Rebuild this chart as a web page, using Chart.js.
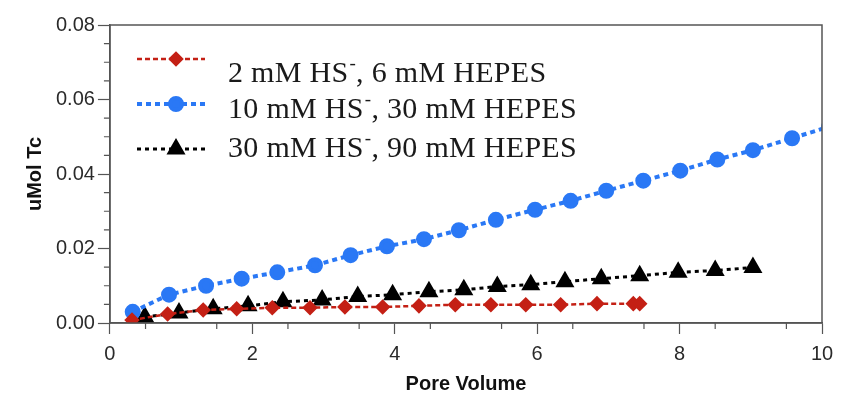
<!DOCTYPE html>
<html>
<head>
<meta charset="utf-8">
<script src="https://cdn.jsdelivr.net/npm/chart.js@4"></script>
<style>
  html, body { margin: 0; padding: 0; background: #fff; }
  #wrap { width: 842px; height: 394px; }
</style>
</head>
<body>
<div id="wrap"><canvas id="chart" width="842" height="394"></canvas></div>
<script>
// pore volume / uMol Tc
const labels = ['2 mM HS⁻, 6 mM HEPES', '10 mM HS⁻, 30 mM HEPES', '30 mM HS⁻, 90 mM HEPES'];

const redX = [0.31, 0.81, 1.31, 1.78, 2.28, 2.81, 3.30, 3.83, 4.34, 4.85, 5.35, 5.84, 6.33, 6.84, 7.35, 7.44];
const redY = [0.0008, 0.0024, 0.0035, 0.0038, 0.0041, 0.0041, 0.0043, 0.0043, 0.0046, 0.0049, 0.0049, 0.0049, 0.0049, 0.0052, 0.0052, 0.0052];

const blueX = [0.32, 0.83, 1.35, 1.85, 2.35, 2.88, 3.38, 3.89, 4.41, 4.90, 5.42, 5.97, 6.47, 6.97, 7.49, 8.01, 8.53, 9.03, 9.58, 10.1];
const blueY = [0.0030, 0.0076, 0.0100, 0.0119, 0.0136, 0.0155, 0.0182, 0.0206, 0.0225, 0.0249, 0.0277, 0.0304, 0.0328, 0.0355, 0.0382, 0.0409, 0.0439, 0.0464, 0.0496, 0.0527];

const blackX = [0.49, 0.97, 1.45, 1.94, 2.43, 2.98, 3.48, 3.97, 4.48, 4.97, 5.44, 5.91, 6.39, 6.90, 7.44, 7.98, 8.50, 9.03];
const blackY = [0.0016, 0.0027, 0.0038, 0.0046, 0.0057, 0.0062, 0.0071, 0.0076, 0.0084, 0.0089, 0.0098, 0.0103, 0.0111, 0.0119, 0.0127, 0.0136, 0.0141, 0.0149];

const xTicks = [0, 2, 4, 6, 8, 10];
const yTicks = [0, 0.02, 0.04, 0.06, 0.08];

const X_MAX = 10;
const AXIS = '#555';
const SANS = "'Liberation Sans', Arial, sans-serif";
const SERIF = "'Liberation Serif', 'Times New Roman', serif";

const toPoints = (xs, ys) => xs.map((x, i) => ({ x, y: ys[i] }));
const hideOutside = (c) => (c.raw && c.raw.x > X_MAX ? 0 : undefined);

// frame round the plot + minor ticks
const framePlugin = {
  id: 'frame',
  afterDraw(chart) {
    const { ctx, chartArea: a, scales } = chart;
    ctx.save();
    ctx.strokeStyle = AXIS;
    ctx.lineWidth = 1.5;
    ctx.strokeRect(a.left, a.top, a.right - a.left, a.bottom - a.top);
    ctx.lineWidth = 1.2;
    ctx.beginPath();
    for (let v = 0.5; v < X_MAX; v += 1) {
      const px = scales.x.getPixelForValue(v);
      ctx.moveTo(px, a.bottom);
      ctx.lineTo(px, a.bottom + 6);
    }
    for (let v = 0.005; v < 0.08; v += 0.005) {
      if (Math.abs((v / 0.02) - Math.round(v / 0.02)) < 1e-6) continue;
      const py = scales.y.getPixelForValue(v);
      ctx.moveTo(a.left, py);
      ctx.lineTo(a.left - 6, py);
    }
    ctx.stroke();
    ctx.restore();
  },
};

// legend drawn inside the plot, HS with superscript minus
const insideLegend = {
  id: 'insideLegend',
  afterDraw(chart, args, opts) {
    const { ctx } = chart;
    ctx.save();
    chart.data.datasets.forEach((ds, i) => {
      const ly = opts.lineY[i];
      ctx.strokeStyle = ds.borderColor;
      ctx.lineWidth = ds.borderWidth;
      ctx.setLineDash(ds.borderDash);
      ctx.beginPath();
      ctx.moveTo(opts.x0, ly);
      ctx.lineTo(opts.x1, ly);
      ctx.stroke();
      ctx.setLineDash([]);
      ctx.fillStyle = ds.pointBackgroundColor;
      ctx.strokeStyle = ds.pointBorderColor;
      Chart.helpers.drawPoint(ctx, {
        pointStyle: ds.pointStyle,
        radius: ds.pointRadius,
        rotation: 0,
        borderWidth: 1,
      }, (opts.x0 + opts.x1) / 2 + 5, ly);

      const parts = ds.label.split('⁻');
      let tx = opts.textX;
      const ty = opts.textY[i];
      ctx.fillStyle = '#1a1a1a';
      ctx.textBaseline = 'alphabetic';
      ctx.letterSpacing = opts.spacing;
      ctx.font = `${opts.size}px ${SERIF}`;
      ctx.fillText(parts[0], tx, ty);
      tx += ctx.measureText(parts[0]).width;
      if (parts.length > 1) {
        ctx.font = `${Math.round(opts.size * 0.62)}px ${SERIF}`;
        ctx.fillText('-', tx + 1, ty - opts.size * 0.42);
        tx += ctx.measureText('-').width + 1;
        ctx.font = `${opts.size}px ${SERIF}`;
        ctx.fillText(parts[1], tx, ty);
      }
    });
    ctx.restore();
  },
};

new Chart(document.getElementById('chart'), {
  type: 'line',
  data: {
    datasets: [
      {
        label: labels[0],
        data: toPoints(redX, redY),
        borderColor: '#c42015',
        borderWidth: 2.5,
        borderDash: [5, 3],
        pointStyle: 'rectRot',
        pointRadius: 6,
        pointBackgroundColor: '#c42015',
        pointBorderColor: '#c42015',
      },
      {
        label: labels[1],
        data: toPoints(blueX, blueY),
        borderColor: '#2a78f5',
        borderWidth: 4,
        borderDash: [5, 4],
        pointStyle: 'circle',
        pointRadius: 6,
        pointBackgroundColor: '#2a78f5',
        pointBorderColor: '#2a78f5',
      },
      {
        label: labels[2],
        data: toPoints(blackX, blackY),
        borderColor: '#000',
        borderWidth: 3,
        borderDash: [4, 4],
        pointStyle: 'triangle',
        pointRadius: 8,
        pointBackgroundColor: '#000',
        pointBorderColor: '#000',
      },
    ],
  },
  options: {
    responsive: false,
    animation: false,
    layout: { padding: { left: 23, right: 20, top: 25, bottom: 0 } },
    elements: {
      line: { tension: 0, fill: false },
      point: { radius: hideOutside, borderWidth: 1 },
    },
    scales: {
      x: {
        type: 'linear',
        min: 0,
        max: X_MAX,
        afterBuildTicks: (s) => { s.ticks = xTicks.map((v) => ({ value: v })); },
        ticks: { color: '#2a2a2a', font: { family: SANS, size: 20 }, padding: 8, maxRotation: 0 },
        grid: { drawOnChartArea: false, tickLength: 11, color: AXIS, tickWidth: 1.2 },
        border: { color: AXIS, width: 1.5 },
        title: {
          display: true,
          text: 'Pore Volume',
          color: '#111',
          font: { family: SANS, size: 20, weight: 'bold', lineHeight: 1 },
          padding: { top: 0, bottom: 0 },
        },
      },
      y: {
        min: 0,
        max: 0.08,
        afterBuildTicks: (s) => { s.ticks = yTicks.map((v) => ({ value: v })); },
        ticks: {
          color: '#2a2a2a',
          font: { family: SANS, size: 20 },
          padding: 3,
          callback: (v) => Number(v).toFixed(2),
        },
        grid: { drawOnChartArea: false, tickLength: 12, color: AXIS, tickWidth: 1.2 },
        border: { color: AXIS, width: 1.5 },
        title: {
          display: true,
          text: 'uMol Tc',
          color: '#111',
          font: { family: SANS, size: 20, weight: 'bold' },
          padding: { top: 0, bottom: 6 },
        },
      },
    },
    plugins: {
      legend: { display: false },
      tooltip: { enabled: false },
      insideLegend: {
        x0: 137,
        x1: 205,
        lineY: [59, 104, 149],
        textX: 228,
        textY: [82, 118, 157],
        size: 30,
        spacing: '0.3px',
      },
    },
  },
  plugins: [framePlugin, insideLegend],
});
</script>
</body>
</html>
